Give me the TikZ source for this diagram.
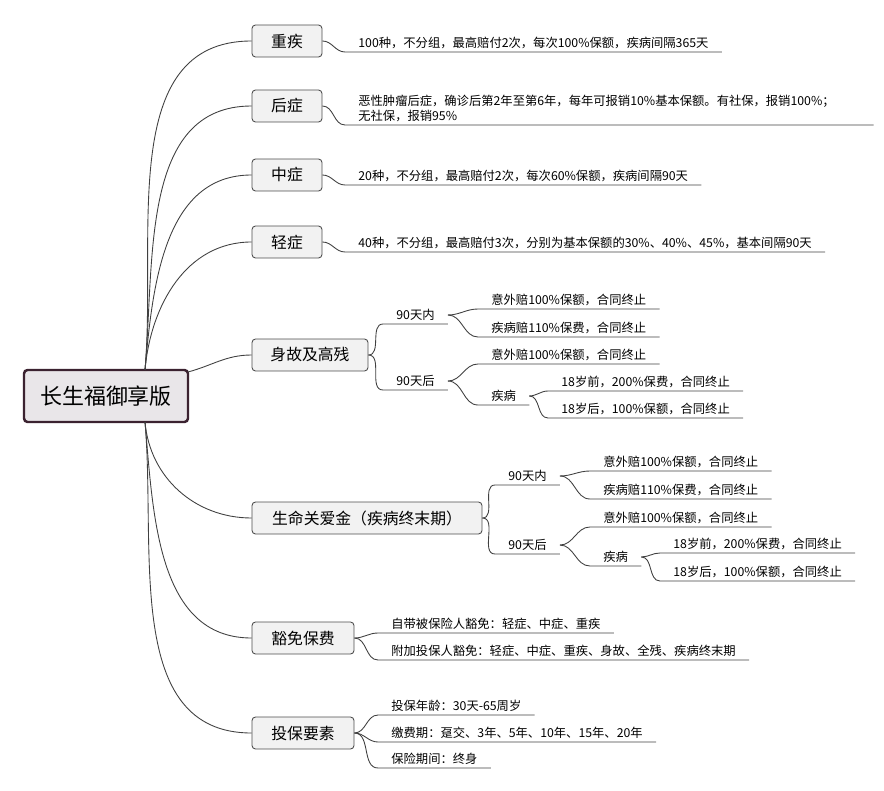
\documentclass[tikz,border=0pt]{standalone}
\usepackage{fontspec}
\setmainfont{Noto Sans CJK SC}
\definecolor{rootline}{RGB}{59,34,48}
\definecolor{rootfill}{RGB}{233,230,233}
\begin{document}
\begin{tikzpicture}[x=0.02cm,y=-0.02cm,
  rootbox/.style={draw=rootline,line width=1.4pt,fill=rootfill,rounded corners=2pt,minimum width=3.28cm,minimum height=1.04cm,font=\fontsize{12.5}{14}\selectfont},
  branch/.style={draw=black!70,line width=0.5pt,fill=black!5,rounded corners=2pt,minimum height=0.64cm,inner xsep=0.35cm,font=\fontsize{9}{11}\selectfont},
  leaf/.style={anchor=south west,inner xsep=0.26cm,inner ysep=0.06cm,font=\fontsize{7}{8.5}\selectfont},
  link/.style={draw=black!75,line width=0.5pt}]
\useasboundingbox (0,0) rectangle (884,790);
% leaf: name, parent, underline start, text
\newcommand\leaf[5]{%
  \node[leaf] (#1) at (#3,#4) {#5};
  \draw[link] (#2.east) to[out=0,in=180] (#1.south west) -- (#1.south east);}

% root
\node[rootbox] (root) at (106,396) {长生福御享版};

% main branches
\node[branch,minimum width=1.4cm]  (zj) at (287,41)  {重疾};
\node[branch,minimum width=1.4cm]  (hz) at (287,106) {后症};
\node[branch,minimum width=1.4cm]  (zz) at (287,175) {中症};
\node[branch,minimum width=1.4cm]  (qz) at (287,242) {轻症};
\node[branch,minimum width=2.32cm] (sg) at (310,355) {身故及高残};
\node[branch,minimum width=4.6cm]  (sm) at (367,518) {生命关爱金（疾病终末期）};
\node[branch,minimum width=2.04cm] (hm) at (303,638) {豁免保费};
\node[branch,minimum width=2.04cm] (tb) at (303,733) {投保要素};

\foreach \b in {zj,hz,zz,qz}
  \draw[link] (145,370) to[out=85,in=180] (\b.west);
\draw[link] (188,372) to[out=15,in=180] (sg.west);
\foreach \b in {sm,hm,tb}
  \draw[link] (145,422) to[out=-85,in=180] (\b.west);

% simple leaves
\leaf{zjA}{zj}{345}{52}{100种，不分组，最高赔付2次，每次100\%保额，疾病间隔365天}
\node[leaf,text width=10.04cm] (hzA) at (345,125) {恶性肿瘤后症，确诊后第2年至第6年，每年可报销10\%基本保额。有社保，报销100\%；\\无社保，报销95\%};
\draw[link] (hz.east) to[out=0,in=180] (hzA.south west) -- (hzA.south east);
\leaf{zzA}{zz}{345}{185}{20种，不分组，最高赔付2次，每次60\%保额，疾病间隔90天}
\leaf{qzA}{qz}{345}{252}{40种，不分组，最高赔付3次，分别为基本保额的30\%、40\%、45\%，基本间隔90天}

% 身故及高残
\leaf{sgA}{sg}{383}{324}{90天内}
\leaf{sgB}{sg}{383}{390}{90天后}
\leaf{sgA1}{sgA}{478}{309}{意外赔100\%保额，合同终止}
\leaf{sgA2}{sgA}{478}{337}{疾病赔110\%保费，合同终止}
\leaf{sgB1}{sgB}{478}{364}{意外赔100\%保额，合同终止}
\leaf{sgB2}{sgB}{478}{405}{疾病}
\leaf{sgB21}{sgB2}{548}{391}{18岁前，200\%保费，合同终止}
\leaf{sgB22}{sgB2}{548}{418}{18岁后，100\%保额，合同终止}

% 生命关爱金
\leaf{smA}{sm}{495}{485}{90天内}
\leaf{smB}{sm}{495}{554}{90天后}
\leaf{smA1}{smA}{590}{471}{意外赔100\%保额，合同终止}
\leaf{smA2}{smA}{590}{499}{疾病赔110\%保费，合同终止}
\leaf{smB1}{smB}{590}{527}{意外赔100\%保额，合同终止}
\leaf{smB2}{smB}{590}{566}{疾病}
\leaf{smB21}{smB2}{660}{553}{18岁前，200\%保费，合同终止}
\leaf{smB22}{smB2}{660}{581}{18岁后，100\%保额，合同终止}

% 豁免保费
\leaf{hmA}{hm}{378}{633}{自带被保险人豁免：轻症、中症、重疾}
\leaf{hmB}{hm}{378}{660}{附加投保人豁免：轻症、中症、重疾、身故、全残、疾病终末期}

% 投保要素
\leaf{tbA}{tb}{378}{715}{投保年龄：30天-65周岁}
\leaf{tbB}{tb}{378}{742}{缴费期：趸交、3年、5年、10年、15年、20年}
\leaf{tbC}{tb}{378}{768}{保险期间：终身}
\end{tikzpicture}
\end{document}
